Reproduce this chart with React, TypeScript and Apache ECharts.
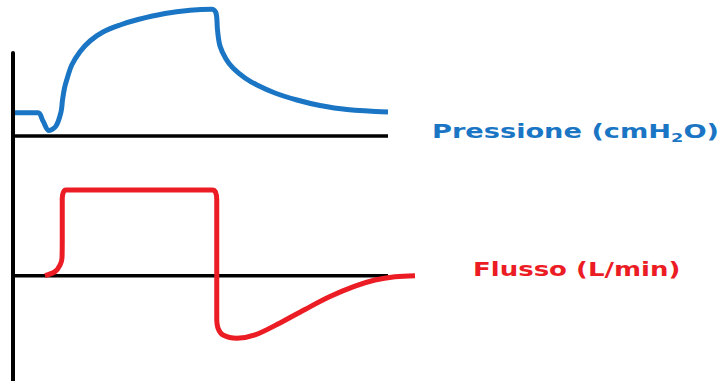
import React, { useEffect, useRef } from "react";
import * as echarts from "echarts";

// Pressure curve (time in s, pressure in cmH2O)
const pressureTime = [0.016, 0.20, 0.24, 0.288, 0.344, 0.384, 0.396, 0.412, 0.432, 0.47, 0.536, 0.616, 0.72, 0.856, 1.0, 1.216, 1.416, 1.592, 1.624, 1.636, 1.656, 1.704, 1.76, 1.856, 1.952, 2.096, 2.272, 2.456, 2.672, 3.0];
const pressureValue = [4.66, 4.66, 3.0, 1.1, 2.0, 4.8, 7.2, 9.6, 11.4, 14.2, 16.86, 19.0, 20.8, 22.2, 23.3, 24.5, 25.14, 25.34, 24.6, 21.2, 18.0, 15.4, 13.6, 11.6, 10.2, 8.6, 7.2, 6.1, 5.3, 4.8];

// Flow curve (time in s, flow in L/min)
const flowTime = [0.256, 0.336, 0.376, 0.392, 0.394, 0.394, 0.404, 0.424, 1.592, 1.62, 1.63, 1.63, 1.64, 1.68, 1.792, 1.936, 2.136, 2.336, 2.536, 2.736, 2.896, 3.056, 3.216];
const flowValue = [0, 2.7, 7.1, 11.8, 23.8, 51.8, 55.8, 57.1, 57.1, 55.8, 50.5, -28.2, -34.9, -39.5, -41.7, -39.5, -31.5, -22.5, -13.9, -7.0, -2.9, -0.7, 0];

// Zero reference lines
const baseTime = [0, 3.0];
const baseValue = [0, 0];

const pressureLabel = ["Pressione (cmH", "2", "O)"];
const flowLabel = "Flusso (L/min)";

const BLUE = "#1a76c4";
const RED = "#ec1c24";

export default function App() {
  const ref = useRef<HTMLDivElement>(null);
  useEffect(() => {
    document.body.style.margin = "0";
    const chart = echarts.init(ref.current!, null, { renderer: "svg" });
    const zip = (a: number[], b: number[]) => a.map((v, i) => [v, b[i]]);
    const font = "DejaVu Sans";
    chart.setOption({
      animation: false,
      backgroundColor: "#ffffff",
      grid: { left: 13, top: 53, width: 700, height: 328 },
      xAxis: { type: "value", min: 0, max: 5.6, show: false },
      yAxis: [
        {
          type: "value",
          min: -49,
          max: 16.6,
          axisLine: { show: true, lineStyle: { color: "#000", width: 4 } },
          axisTick: { show: false },
          axisLabel: { show: false },
          splitLine: { show: false },
        },
        { type: "value", min: -70.2, max: 148.47, show: false, splitLine: { show: false } },
      ],
      series: [
        {
          type: "line", yAxisIndex: 0, data: zip(baseTime, baseValue), symbol: "none", z: 1,
          lineStyle: { color: "#000", width: 3.5 }, clip: false,
        },
        {
          type: "line", yAxisIndex: 1, data: zip(baseTime, baseValue), symbol: "none", z: 1,
          lineStyle: { color: "#000", width: 3.5 }, clip: false,
        },
        {
          type: "line", name: "Pressione", yAxisIndex: 0, data: zip(pressureTime, pressureValue),
          symbol: "none", smooth: 0.35, clip: false, z: 3,
          lineStyle: { color: BLUE, width: 5, cap: "butt", join: "round" },
        },
        {
          type: "line", name: "Flusso", yAxisIndex: 1, data: zip(flowTime, flowValue),
          symbol: "none", smooth: 0.35, clip: false, z: 3,
          lineStyle: { color: RED, width: 5, cap: "butt", join: "round" },
        },
      ],
      graphic: [
        {
          type: "text",
          x: 432,
          y: 118,
          scaleX: 1.36,
          style: {
            text: `{a|${pressureLabel[0]}}{s|${pressureLabel[1]}}{a|${pressureLabel[2]}}`,
            align: "left",
            verticalAlign: "top",
            rich: {
              a: { fontFamily: font, fontWeight: "bold", fontSize: 20, fill: BLUE, lineHeight: 26 },
              s: { fontFamily: font, fontWeight: "bold", fontSize: 13, fill: BLUE, lineHeight: 13, verticalAlign: "bottom" },
            },
          },
        },
        {
          type: "text",
          x: 473,
          y: 256,
          scaleX: 1.3,
          style: {
            text: flowLabel,
            align: "left",
            verticalAlign: "top",
            fontFamily: font, fontWeight: "bold", fontSize: 20, fill: RED, lineHeight: 26,
          },
        },
      ],
    });
    return () => chart.dispose();
  }, []);
  return <div ref={ref} style={{ width: 725, height: 381 }} />;
}
